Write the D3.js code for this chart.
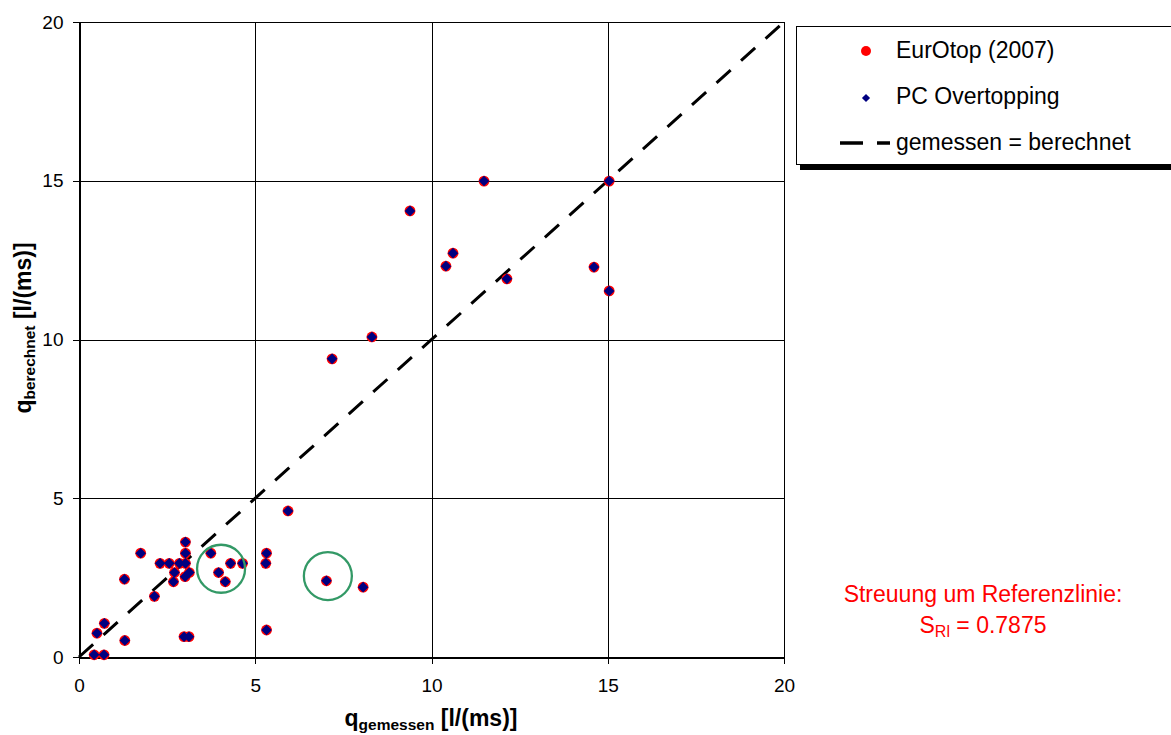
<!DOCTYPE html>
<html><head><meta charset="utf-8">
<script src="https://cdn.jsdelivr.net/npm/d3@7"></script>
<style>
body{margin:0;background:#fff;}
text{font-family:"Liberation Sans",Arial,sans-serif;}
</style></head>
<body><svg id="c" width="1171" height="735"></svg>
<script>
// measured values (x)
const measured = [0.43,0.71,0.51,0.72,1.30,2.98,3.12,5.32,1.29,2.14,2.68,2.71,3.01,3.13,2.30,2.56,2.85,3.02,1.75,3.02,3.02,3.74,3.96,4.15,4.30,4.64,5.30,5.32,7.02,8.06,5.93,7.18,8.31,9.39,10.41,10.61,11.49,12.14,14.61,15.04,15.04];
// EurOtop (2007) computed values
const eurotop = [0.07,0.07,0.75,1.06,0.52,0.64,0.64,0.85,2.45,1.91,2.37,2.66,2.53,2.66,2.95,2.95,2.95,2.95,3.27,3.27,3.62,3.27,2.66,2.37,2.95,2.95,2.95,3.27,2.40,2.20,4.60,9.39,10.08,14.05,12.31,12.72,14.99,11.91,12.28,14.99,11.53];
// PC Overtopping computed values
const pcOvertopping = [0.07,0.07,0.75,1.06,0.52,0.64,0.64,0.85,2.45,1.91,2.37,2.66,2.53,2.66,2.95,2.95,2.95,2.95,3.27,3.27,3.62,3.27,2.66,2.37,2.95,2.95,2.95,3.27,2.40,2.20,4.60,9.39,10.08,14.05,12.31,12.72,14.99,11.91,12.28,14.99,11.53];
const ticks = [0,5,10,15,20];
const highlightX = [4.03,7.06];
const highlightY = [2.78,2.55];
const legendLabels = ["EurOtop (2007)","PC Overtopping","gemessen = berechnet"];

const svg = d3.select("#c");
const x = d3.scaleLinear().domain([0,20]).range([79,784]);
const y = d3.scaleLinear().domain([0,20]).range([657,22]);

// grid
const g = svg.append("g").attr("shape-rendering","crispEdges");
g.selectAll(".gx").data(ticks.slice(1)).enter().append("line")
 .attr("x1",d=>Math.round(x(d))+0.5).attr("x2",d=>Math.round(x(d))+0.5)
 .attr("y1",y(0)).attr("y2",y(20)).attr("stroke","#000").attr("stroke-width",1);
g.selectAll(".gy").data(ticks.slice(1)).enter().append("line")
 .attr("y1",d=>Math.round(y(d))+0.5).attr("y2",d=>Math.round(y(d))+0.5)
 .attr("x1",x(0)).attr("x2",x(20)).attr("stroke","#000").attr("stroke-width",1);

// axes
const xa = svg.append("g").attr("transform",`translate(0,${Math.round(y(0))+0.5})`)
 .call(d3.axisBottom(x).tickValues(ticks).tickSize(6).tickSizeOuter(0).tickPadding(15));
const ya = svg.append("g").attr("transform",`translate(${Math.round(x(0))+0.5},0)`)
 .call(d3.axisLeft(y).tickValues(ticks).tickSize(7).tickSizeOuter(0).tickPadding(9));
[xa,ya].forEach(a=>{
  a.select(".domain").attr("stroke","#000").attr("stroke-width",2).attr("shape-rendering","crispEdges");
  a.selectAll(".tick line").attr("stroke","#000").attr("shape-rendering","crispEdges");
  a.selectAll(".tick text").attr("font-size",19).attr("fill","#000").attr("font-family","Liberation Sans, Arial, sans-serif");
});
xa.selectAll(".tick text").attr("dy","0.71em");

// reference line
svg.append("line").attr("x1",x(0)).attr("y1",y(0)).attr("x2",x(20)).attr("y2",y(20))
 .attr("stroke","#000").attr("stroke-width",3).attr("stroke-dasharray","19,14");

// points
const pts = measured.map((m,i)=>({m, e:eurotop[i], p:pcOvertopping[i]}));
svg.append("g").selectAll("circle").data(pts).enter().append("circle")
 .attr("cx",d=>x(d.m)).attr("cy",d=>y(d.e)).attr("r",5.4).attr("fill","#ff0000");
svg.append("g").selectAll("path").data(pts).enter().append("path")
 .attr("d", d3.symbol().type(d3.symbolSquare).size(56))
 .attr("transform",d=>`translate(${x(d.m)},${y(d.p)}) rotate(45)`).attr("fill","#000080");

// highlight circles
svg.append("g").selectAll("circle").data(highlightX).enter().append("circle")
 .attr("cx",(d)=>x(d)).attr("cy",(d,i)=>y(highlightY[i])).attr("r",24)
 .attr("fill","none").attr("stroke","#339966").attr("stroke-width",2.3);

// axis titles
const xt = svg.append("text").attr("x",431).attr("y",726).attr("text-anchor","middle")
 .attr("font-size",23).attr("font-weight","bold");
xt.append("tspan").text("q");
xt.append("tspan").text("gemessen").attr("font-size",15.5).attr("dy",4);
xt.append("tspan").text(" [l/(ms)]").attr("dy",-4);
const yt = svg.append("text").attr("transform","translate(31,328) rotate(-90)").attr("text-anchor","middle")
 .attr("font-size",23).attr("font-weight","bold");
yt.append("tspan").text("q");
yt.append("tspan").text("berechnet").attr("font-size",15.5).attr("dy",4);
yt.append("tspan").text(" [l/(ms)]").attr("dy",-4);

// legend
const lg = svg.append("g");
lg.append("rect").attr("x",800).attr("y",165).attr("width",380).attr("height",5).attr("fill","#000");
lg.append("rect").attr("x",796.5).attr("y",26.5).attr("width",380).attr("height",138)
 .attr("fill","#fff").attr("stroke","#000").attr("stroke-width",1);
lg.append("circle").attr("cx",866).attr("cy",51).attr("r",5).attr("fill","#ff0000");
lg.append("path").attr("d",d3.symbol().type(d3.symbolSquare).size(34)())
 .attr("transform","translate(866,98) rotate(45)").attr("fill","#000080");
lg.append("line").attr("x1",840).attr("x2",890).attr("y1",143).attr("y2",143)
 .attr("stroke","#000").attr("stroke-width",3.5).attr("stroke-dasharray","23,14");
lg.selectAll("text.l").data(legendLabels).enter().append("text")
 .attr("x",896).attr("y",(d,i)=>58+i*46).attr("font-size",23).attr("fill","#000").text(d=>d);

// annotation
svg.append("text").attr("x",983).attr("y",602).attr("text-anchor","middle").attr("font-size",23)
 .attr("fill","#ff0000").text("Streuung um Referenzlinie:");
const st = svg.append("text").attr("x",983).attr("y",633).attr("text-anchor","middle").attr("font-size",23).attr("fill","#ff0000");
st.append("tspan").text("S");
st.append("tspan").text("Rl").attr("font-size",16).attr("dy",4);
st.append("tspan").text(" = 0.7875").attr("dy",-4);
</script></body></html>
